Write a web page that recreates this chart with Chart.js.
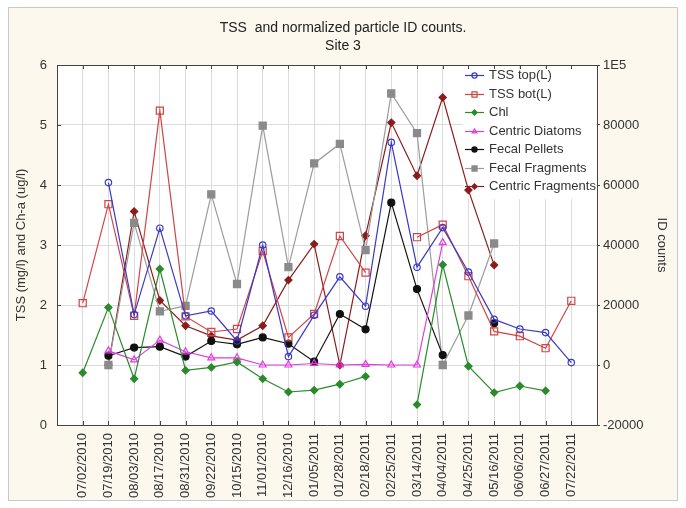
<!DOCTYPE html>
<html>
<head>
<meta charset="utf-8">
<script src="https://cdn.jsdelivr.net/npm/chart.js@4/dist/chart.umd.min.js"></script>
<style>
  html, body { margin: 0; padding: 0; background: #fff; }
</style>
</head>
<body>
<canvas id="tssChart" width="686" height="508"></canvas>
<script>
// sampling dates (category axis)
const categories = ['07/02/2010', '07/19/2010', '08/03/2010', '08/17/2010', '08/31/2010',
  '09/22/2010', '10/15/2010', '11/01/2010', '12/16/2010', '01/05/2011', '01/28/2011',
  '02/18/2011', '02/25/2011', '03/14/2011', '04/04/2011', '04/25/2011', '05/16/2011',
  '06/06/2011', '06/27/2011', '07/22/2011'];

// left axis: mg/l, ug/l
const tssTop = [null, 4.04, 1.84, 3.28, 1.82, 1.90, 1.40, 3.00, 1.14, 1.83, 2.47, 1.98, 4.71, 2.63, 3.29, 2.55, 1.76, 1.60, 1.54, 1.04];
const tssBot = [2.03, 3.68, 1.82, 5.24, 1.81, 1.55, 1.60, 2.90, 1.46, 1.85, 3.15, 2.54, null, 3.13, 3.34, 2.48, 1.56, 1.48, 1.28, 2.07];
const chl = [0.87, 1.96, 0.77, 2.60, 0.91, 0.96, 1.05, 0.77, 0.55, 0.58, 0.68, 0.81, null, 0.34, 2.67, 0.98, 0.54, 0.65, 0.57, null];

// right axis: ID counts
const centricDiatoms = [null, 4700, 1700, 8300, 4400, 2400, 2400, 0, 0, 500, 0, 200, 0, 0, 40800, null, null, null, null, null];
const fecalPellets = [null, 3100, 5800, 6100, 2800, 8000, 6900, 9200, 7100, 1100, 17000, 11900, 54100, 25300, 3300, null, 13900, null, null, null];
const fecalFragments = [null, 0, 47400, 17900, 19700, 56900, 27000, 79800, 32600, 67200, 73700, 38300, 90500, 77300, 0, 16500, 40500, null, null, null];
const centricFragments = [null, 0, 51200, 21500, 13100, 9700, 8300, 13100, 28300, 40300, 0, 43100, 80800, 63100, 89200, 58300, 33300, null, null, null];

// right axis tick labels
const rightTicks = { 100000: '1E5' };

const FONT = '"Liberation Sans", Arial, sans-serif';
Chart.defaults.font.family = FONT;
Chart.defaults.font.size = 13;
Chart.defaults.color = '#333';

function series(label, values, axis, color, style) {
  return Object.assign({
    label: label,
    yAxisID: axis,
    data: values.map((v, i) => ({ x: i, y: v })),
    borderColor: color,
    pointBorderColor: color,
    borderWidth: 1.2,
    pointBorderWidth: 1.2,
    pointHoverRadius: 4,
    spanGaps: false
  }, style);
}

const none = 'rgba(0,0,0,0)';
const datasets = [
  series('TSS top(L)', tssTop, 'y', '#3a3ac6', { pointStyle: 'circle', pointRadius: 3.2, pointBackgroundColor: none }),
  series('TSS bot(L)', tssBot, 'y', '#d24444', { pointStyle: 'rect', pointRadius: 5, pointBackgroundColor: none }),
  series('Chl', chl, 'y', '#2b8a2b', { pointStyle: 'rectRot', pointRadius: 3.6, pointBackgroundColor: '#2b8a2b' }),
  series('Centric Diatoms', centricDiatoms, 'y1', '#e03ce0', { pointStyle: 'triangle', pointRadius: 4, pointBackgroundColor: none }),
  series('Fecal Pellets', fecalPellets, 'y1', '#111111', { pointStyle: 'circle', pointRadius: 3.5, pointBackgroundColor: '#111111' }),
  series('Fecal Fragments', fecalFragments, 'y1', '#9c9c9c', { pointStyle: 'rect', pointRadius: 5, pointBackgroundColor: '#8a8a8a', pointBorderColor: '#8a8a8a' }),
  series('Centric Fragments', centricFragments, 'y1', '#8b1c1c', { pointStyle: 'rectRot', pointRadius: 3.6, pointBackgroundColor: '#8b1c1c' })
];

// cream page, grey frame, white plot area
const backdrop = {
  id: 'backdrop',
  beforeDraw(chart) {
    const ctx = chart.ctx, a = chart.chartArea;
    ctx.save();
    ctx.fillStyle = '#ffffff';
    ctx.fillRect(0, 0, chart.width, chart.height);
    ctx.fillStyle = '#fcf8ee';
    ctx.fillRect(8, 7, 670, 494);
    ctx.strokeStyle = '#c8c8c8';
    ctx.lineWidth = 1;
    ctx.strokeRect(8.5, 7.5, 669, 493);
    ctx.fillStyle = '#ffffff';
    ctx.fillRect(a.left, a.top, a.right - a.left, a.bottom - a.top);
    ctx.restore();
  }
};

// legend box inside the plot, top right, plus top border and inner ticks
const insideLegend = {
  id: 'insideLegend',
  beforeDatasetsDraw(chart) {
    const ctx = chart.ctx, a = chart.chartArea;
    const x0 = a.right - 134;
    ctx.save();
    ctx.fillStyle = '#ffffff';
    ctx.fillRect(x0, a.top + 4, a.right - x0 - 1, 130);

    // top border + inner tick marks
    ctx.strokeStyle = '#444';
    ctx.lineWidth = 1;
    ctx.beginPath();
    ctx.moveTo(a.left, a.top + 0.5);
    ctx.lineTo(a.right, a.top + 0.5);
    const xs = chart.scales.x;
    xs.ticks.forEach(t => {
      const px = Math.round(xs.getPixelForValue(t.value)) + 0.5;
      ctx.moveTo(px, a.top); ctx.lineTo(px, a.top + 4);
      ctx.moveTo(px, a.bottom); ctx.lineTo(px, a.bottom - 4);
    });
    const ys = chart.scales.y;
    ys.ticks.forEach(t => {
      const py = Math.round(ys.getPixelForValue(t.value)) + 0.5;
      ctx.moveTo(a.left, py); ctx.lineTo(a.left + 4, py);
    });
    ctx.stroke();

    ctx.font = '13px ' + FONT;
    ctx.textBaseline = 'middle';
    ctx.textAlign = 'left';
    chart.data.datasets.forEach((ds, k) => {
      const y = Math.round(a.top + 10 + k * 18.5) + 0.5;
      ctx.strokeStyle = ds.borderColor;
      ctx.lineWidth = 1.2;
      ctx.beginPath();
      ctx.moveTo(x0 + 2, y);
      ctx.lineTo(x0 + 21, y);
      ctx.stroke();
      ctx.fillStyle = ds.pointBackgroundColor;
      ctx.strokeStyle = ds.pointBorderColor;
      Chart.helpers.drawPoint(ctx, { pointStyle: ds.pointStyle, radius: ds.pointStyle === 'rect' ? 3.6 : 2.6, borderWidth: 1.2, rotation: 0 }, x0 + 11.5, y);
      ctx.fillStyle = '#333';
      ctx.fillText(ds.label, x0 + 26, y);
    });
    ctx.restore();
  }
};

const chart = new Chart(document.getElementById('tssChart'), {
  type: 'line',
  data: { datasets: datasets },
  plugins: [backdrop, insideLegend],
  options: {
    responsive: false,
    animation: false,
    devicePixelRatio: 1,
    layout: { padding: 0 },
    plugins: {
      legend: { display: false },
      tooltip: { enabled: false },
      title: {
        display: true,
        text: ['TSS  and normalized particle ID counts.', 'Site 3'],
        color: '#222',
        font: { size: 14, weight: 'normal', lineHeight: 1.3 },
        padding: { top: 19, bottom: 9.6 }
      }
    },
    scales: {
      x: {
        type: 'linear',
        min: -1,
        max: 20,
        afterBuildTicks: s => { s.ticks = categories.map((c, i) => ({ value: i })); },
        afterFit: s => { s.height = 83; },
        ticks: {
          autoSkip: false,
          minRotation: 90,
          maxRotation: 90,
          padding: 8,
          color: '#333',
          callback: v => categories[v]
        },
        grid: { color: '#dcdcdc', drawTicks: false },
        border: { color: '#444' }
      },
      y: {
        position: 'left',
        min: 0,
        max: 6,
        ticks: { stepSize: 1, padding: 10, color: '#333' },
        grid: { color: '#dcdcdc', drawTicks: false },
        border: { color: '#444' },
        title: { display: true, text: 'TSS (mg/l) and Ch-a (ug/l)', color: '#333', padding: { top: 14 } },
        afterFit: s => { s.width = 57; }
      },
      y1: {
        position: 'right',
        min: -20000,
        max: 100000,
        ticks: {
          stepSize: 20000,
          padding: 3,
          color: '#333',
          callback: v => rightTicks[v] || String(v)
        },
        grid: { drawOnChartArea: false, tickLength: 3, tickColor: '#444' },
        border: { color: '#444' },
        title: { display: true, text: 'ID counts', color: '#333', padding: { top: 17 } },
        afterFit: s => { s.width = 89; }
      }
    }
  }
});
</script>
</body>
</html>
